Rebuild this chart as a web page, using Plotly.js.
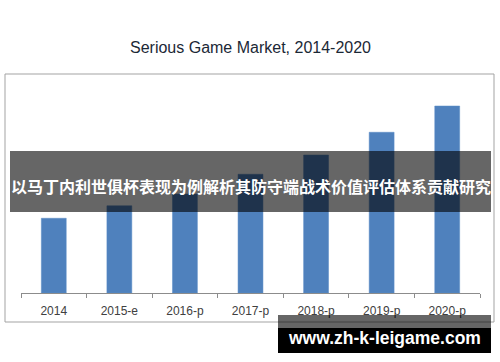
<!DOCTYPE html>
<html>
<head>
<meta charset="utf-8">
<script src="https://cdn.plot.ly/plotly-3.0.1.min.js"></script>
<style>
html,body{margin:0;padding:0;background:#fff;}
#chart{width:500px;height:362px;}
</style>
</head>
<body>
<div id="chart"></div>
<script>
// Data (relative market size)
const categories = ["2014", "2015-e", "2016-p", "2017-p", "2018-p", "2019-p", "2020-p"];
const marketValues = [2.99, 3.49, 3.96, 4.75, 5.52, 6.43, 7.48];
const chartTitle = "Serious Game Market, 2014-2020";
const bannerText = "以马丁内利世俱杯表现为例解析其防守端战术价值评估体系贡献研究";
const watermarkText = "www.zh-k-leigame.com";

// Layout geometry (pixels)
const W = 500, H = 362;
const plotL = 21, plotR = 480, plotT = 80, plotB = 293;
const px = x => (x - plotL) / (plotR - plotL);
const py = y => (plotB - y) / (plotB - plotT);

const trace = {
  type: "bar",
  x: categories,
  y: marketValues,
  width: 0.38,
  marker: {color: "#4f81bd", line: {color: "#5b8cc6", width: 0.5}},
  hoverinfo: "x+y"
};

const layout = {
  width: W, height: H,
  margin: {l: plotL, r: W - plotR, t: plotT, b: H - plotB, pad: 0},
  paper_bgcolor: "#ffffff",
  plot_bgcolor: "#ffffff",
  showlegend: false,
  title: {
    text: chartTitle,
    x: 0.5, xref: "paper", xanchor: "center",
    y: 1 - 47 / H, yanchor: "middle",
    font: {family: "Liberation Sans, Arial, sans-serif", size: 16, color: "#1b2836"}
  },
  xaxis: {
    type: "category",
    showline: true, linecolor: "#8c8c8c", linewidth: 1,
    ticks: "outside", ticklen: 4, tickcolor: "#8c8c8c", tickwidth: 1,
    tickson: "boundaries",
    ticklabelstandoff: 7,
    showgrid: false, zeroline: false,
    tickfont: {family: "Liberation Sans, Arial, sans-serif", size: 12, color: "#404040"},
    fixedrange: true
  },
  yaxis: {
    range: [0, (plotB - plotT) / 25],
    visible: false, showgrid: false, zeroline: false, fixedrange: true
  },
  shapes: [
    // outer frame
    {type: "rect", xref: "paper", yref: "paper", layer: "below",
     x0: px(5), x1: px(494), y0: py(322), y1: py(74),
     line: {color: "#a3a3a3", width: 1}, fillcolor: "rgba(0,0,0,0)"},
    // dark banner
    {type: "rect", xref: "paper", yref: "paper", layer: "above",
     x0: px(10), x1: px(491), y0: py(212), y1: py(151),
     line: {width: 0}, fillcolor: "rgba(0,0,0,0.6)"},
    // watermark gray strip
    {type: "rect", xref: "paper", yref: "paper", layer: "above",
     x0: px(278), x1: px(491), y0: py(328), y1: py(315),
     line: {width: 0}, fillcolor: "rgba(0,0,0,0.6)"},
    // watermark black box
    {type: "rect", xref: "paper", yref: "paper", layer: "above",
     x0: px(278), x1: px(491), y0: py(353), y1: py(328),
     line: {width: 0}, fillcolor: "#000000"}
  ],
  annotations: [
    {text: "<b>" + bannerText + "</b>", xref: "paper", yref: "paper",
     x: px(250.5), y: py(186), xanchor: "center", yanchor: "middle",
     showarrow: false,
     font: {family: "Noto Sans CJK SC, sans-serif", size: 16, color: "#ffffff"}},
    {text: "<b>" + watermarkText + "</b>", xref: "paper", yref: "paper",
     x: px(384), y: py(338), xanchor: "center", yanchor: "middle",
     showarrow: false,
     font: {family: "Liberation Sans, Arial, sans-serif", size: 17.5, color: "#ffffff"}}
  ]
};

Plotly.newPlot("chart", [trace], layout, {displayModeBar: false, staticPlot: true});
</script>
</body>
</html>
